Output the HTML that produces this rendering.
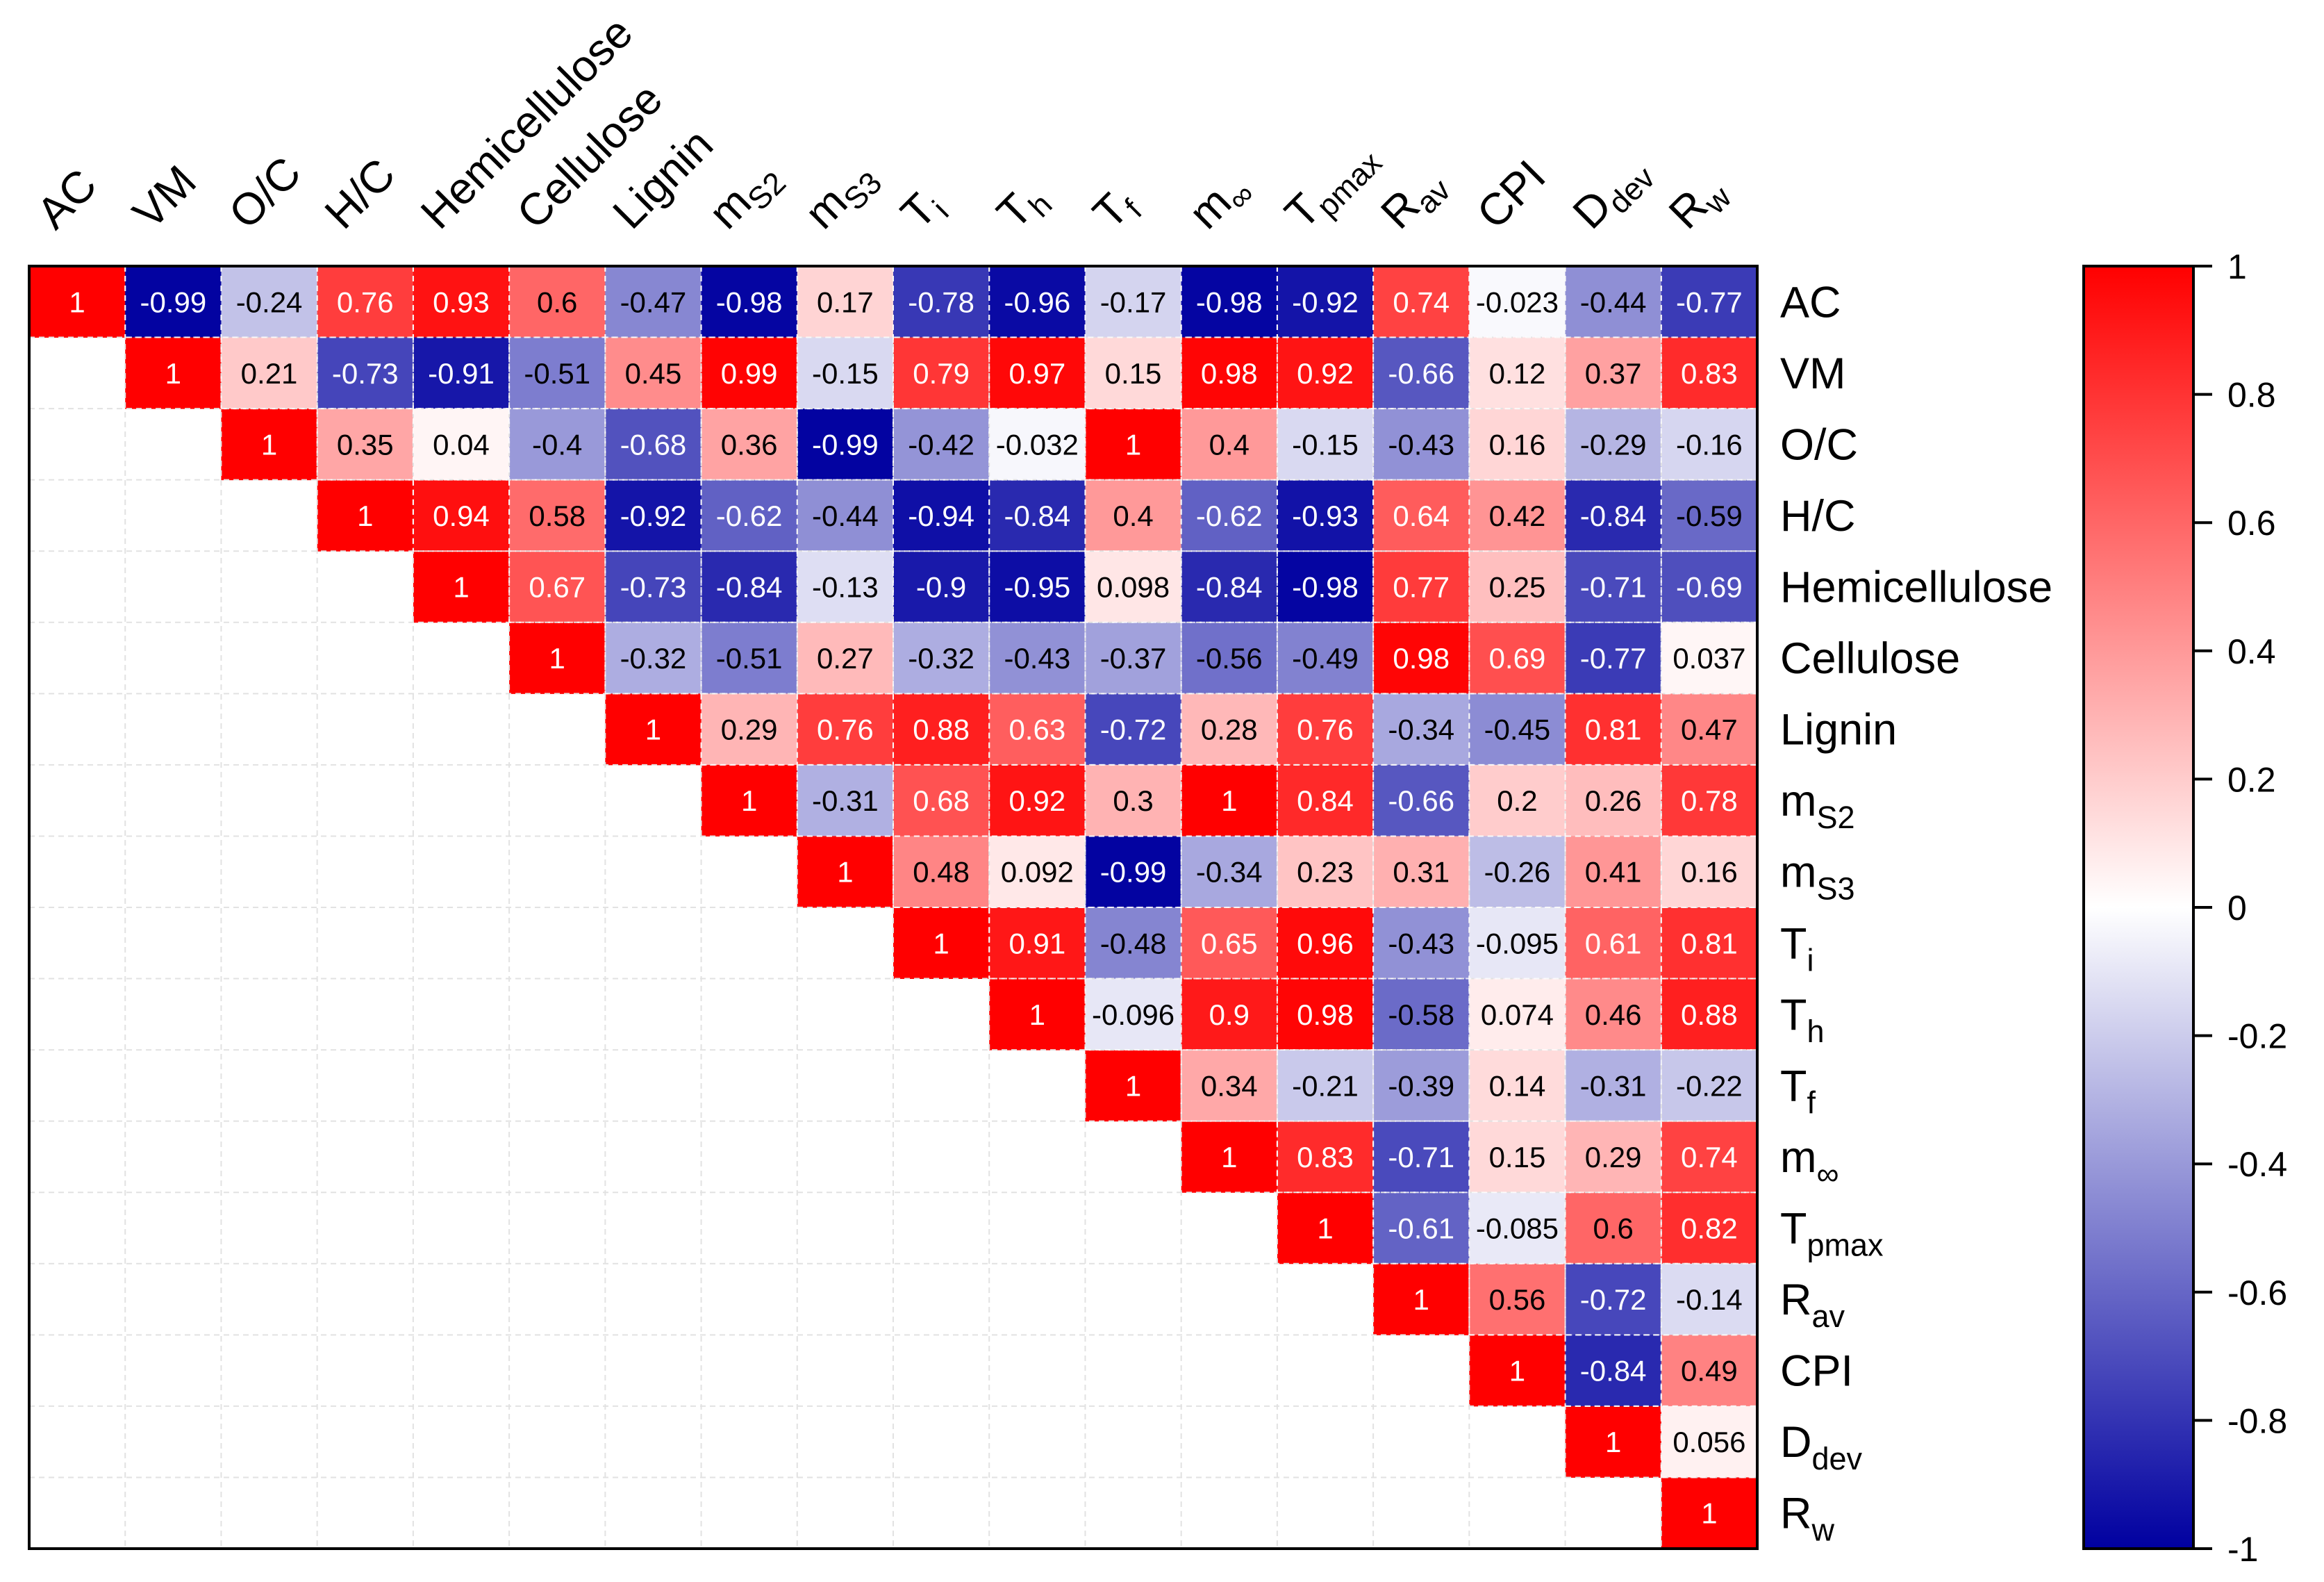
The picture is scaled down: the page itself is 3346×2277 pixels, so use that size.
<!DOCTYPE html>
<html><head><meta charset="utf-8"><style>
html,body{margin:0;padding:0;background:#fff;}
svg{display:block;font-family:"Liberation Sans",Arial,sans-serif;}
</style></head><body>
<svg id="chart" width="3346" height="2277" viewBox="0 0 3346 2277" xmlns="http://www.w3.org/2000/svg">
<defs>
<linearGradient id="cbgrad" x1="0" y1="0" x2="0" y2="1">
<stop offset="0" stop-color="#ff0000"/>
<stop offset="0.5" stop-color="#ffffff"/>
<stop offset="1" stop-color="#0000a0"/>
</linearGradient>
</defs>
<g id="cells"></g>
<g id="grid"></g>
<g id="vals"></g>
<rect x="42" y="383" width="2488" height="1846" fill="none" stroke="#000" stroke-width="4"/>
<g id="collabels"></g>
<g id="rowlabels"></g>
<g id="colorbar">
<rect x="3000" y="383" width="158" height="1846" fill="url(#cbgrad)" stroke="#000" stroke-width="4"/>
</g>
</svg>
<script>
const labels = [["AC",""],["VM",""],["O/C",""],["H/C",""],["Hemicellulose",""],["Cellulose",""],["Lignin",""],["m","S2"],["m","S3"],["T","i"],["T","h"],["T","f"],["m","∞"],["T","pmax"],["R","av"],["CPI",""],["D","dev"],["R","w"]];
const row0 = [1,-0.99,-0.24,0.76,0.93,0.6,-0.47,-0.98,0.17,-0.78,-0.96,-0.17,-0.98,-0.92,0.74,-0.023,-0.44,-0.77];
const row1 = [1,0.21,-0.73,-0.91,-0.51,0.45,0.99,-0.15,0.79,0.97,0.15,0.98,0.92,-0.66,0.12,0.37,0.83];
const row2 = [1,0.35,0.04,-0.4,-0.68,0.36,-0.99,-0.42,-0.032,1,0.4,-0.15,-0.43,0.16,-0.29,-0.16];
const row3 = [1,0.94,0.58,-0.92,-0.62,-0.44,-0.94,-0.84,0.4,-0.62,-0.93,0.64,0.42,-0.84,-0.59];
const row4 = [1,0.67,-0.73,-0.84,-0.13,-0.9,-0.95,0.098,-0.84,-0.98,0.77,0.25,-0.71,-0.69];
const row5 = [1,-0.32,-0.51,0.27,-0.32,-0.43,-0.37,-0.56,-0.49,0.98,0.69,-0.77,0.037];
const row6 = [1,0.29,0.76,0.88,0.63,-0.72,0.28,0.76,-0.34,-0.45,0.81,0.47];
const row7 = [1,-0.31,0.68,0.92,0.3,1,0.84,-0.66,0.2,0.26,0.78];
const row8 = [1,0.48,0.092,-0.99,-0.34,0.23,0.31,-0.26,0.41,0.16];
const row9 = [1,0.91,-0.48,0.65,0.96,-0.43,-0.095,0.61,0.81];
const row10 = [1,-0.096,0.9,0.98,-0.58,0.074,0.46,0.88];
const row11 = [1,0.34,-0.21,-0.39,0.14,-0.31,-0.22];
const row12 = [1,0.83,-0.71,0.15,0.29,0.74];
const row13 = [1,-0.61,-0.085,0.6,0.82];
const row14 = [1,0.56,-0.72,-0.14];
const row15 = [1,-0.84,0.49];
const row16 = [1,0.056];
const row17 = [1];
const rows = [row0,row1,row2,row3,row4,row5,row6,row7,row8,row9,row10,row11,row12,row13,row14,row15,row16,row17];
const cbTicks = [1,0.8,0.6,0.4,0.2,0,-0.2,-0.4,-0.6,-0.8,-1];

const NS = "http://www.w3.org/2000/svg";
const X0 = 42, Y0 = 383, W = 2488, H = 1846, N = labels.length;
const cw = W / N, ch = H / N;
const xPos = i => X0 + i * cw;
const yPos = j => Y0 + j * ch;
const cbY = v => Y0 + (1 - v) / 2 * H;
function color(v){
  if (v >= 0){ const g = Math.round(255*(1-v)); return `rgb(255,${g},${g})`; }
  const a = -v; const g = Math.round(255*(1-a)); const b = Math.round(255 - 95*a);
  return `rgb(${g},${g},${b})`;
}
function mk(tag, attrs, parent){
  const e = document.createElementNS(NS, tag);
  for (const k in attrs) e.setAttribute(k, attrs[k]);
  parent.appendChild(e); return e;
}
const gCells = document.getElementById('cells');
const gGrid = document.getElementById('grid');
const gVals = document.getElementById('vals');
for (let i = 1; i < N; i++){
  const l1 = mk('line',{x1:xPos(i),y1:Y0,x2:xPos(i),y2:Y0+H,stroke:'#e2e2e2','stroke-width':2,'stroke-dasharray':'8,6'},gGrid);
  
  
  const l2 = mk('line',{x1:X0,y1:yPos(i),x2:X0+W,y2:yPos(i),stroke:'#e2e2e2','stroke-width':2,'stroke-dasharray':'8,6'},gGrid);
  
  
}
rows.forEach((r, j) => {
  r.forEach((v, k) => {
    const i = j + k;
    const rc = mk('rect',{x:xPos(i),y:yPos(j),width:cw+0.5,height:ch+0.5,fill:color(v)},gCells);
    
    
    const t = mk('text',{x:xPos(i)+cw/2,y:yPos(j)+ch/2+15,'text-anchor':'middle','font-size':42,fill:Math.abs(v)>0.605?'#fff':'#000'},gVals);
    t.textContent = String(v);
    
    
  });
});
rows.forEach((r, j) => {
  const xs = xPos(j), xe = xPos(j + r.length);
  if (j > 0){
    const l = mk('line',{x1:xs,y1:yPos(j),x2:xe,y2:yPos(j),stroke:'#fff','stroke-width':2,'stroke-dasharray':'8,6',opacity:0.8},gVals);
    
    
  }
  for (let i = j+1; i < j + r.length; i++){
    const l = mk('line',{x1:xPos(i),y1:yPos(j),x2:xPos(i),y2:yPos(j+1),stroke:'#fff','stroke-width':2,'stroke-dasharray':'8,6',opacity:0.8},gVals);
    
    
  }
});
const gCol = document.getElementById('collabels');
labels.forEach((lb, i) => {
  const x = xPos(i) + 38, y = 333;
  const t = mk('text',{x:x,y:y,'font-size':64,transform:`rotate(-45 ${x} ${y})`},gCol);
  
  
  const a = mk('tspan',{},t); a.textContent = lb[0];
  if (lb[1]){ const s = mk('tspan',{'font-size':45,dy:14},t); s.textContent = lb[1]; }
});
const gRow = document.getElementById('rowlabels');
labels.forEach((lb, j) => {
  const t = mk('text',{x:2563,y:yPos(j)+ch/2+22,'font-size':63},gRow);
  
  
  const a = mk('tspan',{},t); a.textContent = lb[0];
  if (lb[1]){ const s = mk('tspan',{'font-size':45,dy:18},t); s.textContent = lb[1]; }
});
const gCb = document.getElementById('colorbar');
cbTicks.forEach(v => {
  const y = cbY(v);
  const l = mk('line',{x1:3158,y1:y,x2:3185,y2:y,stroke:'#000','stroke-width':4},gCb);
  
  
  const t = mk('text',{x:3207,y:y+18,'font-size':50},gCb);
  t.textContent = String(v);
  
  
});
</script>
</body></html>
